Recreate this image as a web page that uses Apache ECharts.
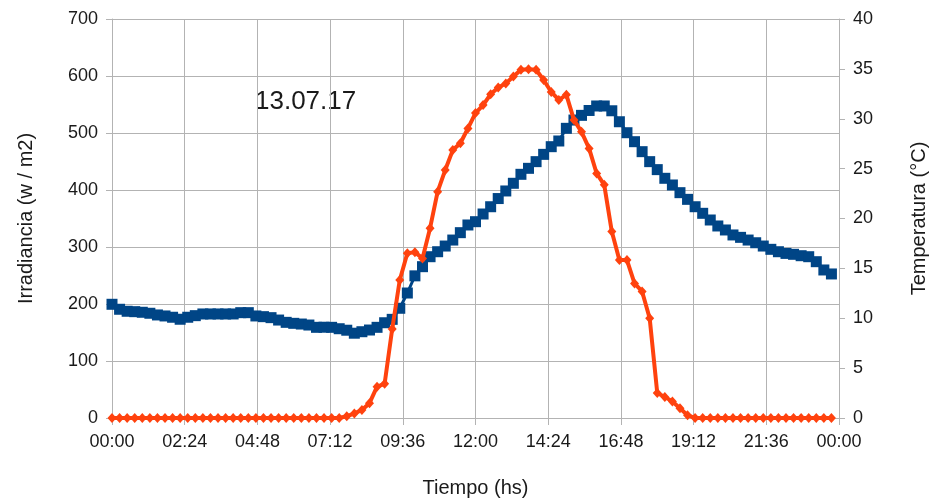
<!DOCTYPE html>
<html>
<head>
<meta charset="utf-8">
<script src="https://cdn.jsdelivr.net/npm/echarts@6/dist/echarts.min.js"></script>
<style>html,body{margin:0;padding:0;background:#fff}#c{width:931px;height:499px}</style>
</head>
<body>
<div id="c"></div>
<script>
// Sample times (15-minute readings)
const times = [
"00:00","00:15","00:30","00:45","01:00","01:15","01:30","01:45","02:00","02:15","02:30","02:45",
"03:00","03:15","03:30","03:45","04:00","04:15","04:30","04:45","05:00","05:15","05:30","05:45",
"06:00","06:15","06:30","06:45","07:00","07:15","07:30","07:45","08:00","08:15","08:30","08:45",
"09:00","09:15","09:30","09:45","10:00","10:15","10:30","10:45","11:00","11:15","11:30","11:45",
"12:00","12:15","12:30","12:45","13:00","13:15","13:30","13:45","14:00","14:15","14:30","14:45",
"15:00","15:15","15:30","15:45","16:00","16:15","16:30","16:45","17:00","17:15","17:30","17:45",
"18:00","18:15","18:30","18:45","19:00","19:15","19:30","19:45","20:00","20:15","20:30","20:45",
"21:00","21:15","21:30","21:45","22:00","22:15","22:30","22:45","23:00","23:15","23:30","23:45"
];
// Irradiance (W/m2)
const irradiance = [
0,0,0,0,0,0,0,0,0,0,0,0,
0,0,0,0,0,0,0,0,0,0,0,0,
0,0,0,0,0,0,0,3,8,14,26,55,
60,156,242,289,291,280,333,397,435,470,482,508,
535,549,568,580,587,599,611,612,611,593,572,558,
567,523,502,473,429,409,327,277,277,236,222,175,
44,37,29,17,5,0,0,0,0,0,0,0,
0,0,0,0,0,0,0,0,0,0,0,0
];
// Temperature (°C)
const temperature = [
11.4,10.9,10.7,10.66,10.6,10.5,10.33,10.23,10.1,9.9,10.1,10.26,
10.43,10.43,10.43,10.43,10.43,10.56,10.56,10.23,10.16,10.06,9.82,9.59,
9.49,9.42,9.32,9.09,9.1,9.09,8.95,8.8,8.5,8.65,8.82,9.09,
9.55,9.89,11.0,12.53,14.25,15.17,16.17,16.67,17.24,17.84,18.58,19.35,
19.68,20.45,21.18,22.0,22.76,23.53,24.43,25.03,25.7,26.43,27.2,27.77,
29.04,29.87,30.34,30.83,31.28,31.28,30.8,29.7,28.6,27.7,26.7,25.7,
24.9,24.03,23.36,22.59,21.92,21.18,20.52,19.85,19.25,18.85,18.35,18.11,
17.84,17.57,17.24,16.91,16.67,16.5,16.41,16.27,16.17,15.67,14.84,14.44
];
const xTickLabels = ["00:00","02:24","04:48","07:12","09:36","12:00","14:24","16:48","19:12","21:36","00:00"];

const toMin = s => { const p = s.split(":"); return (+p[0]) * 60 + (+p[1]); };
const irrData = times.map((t, i) => [toMin(t), irradiance[i]]);
const tmpData = times.map((t, i) => [toMin(t), temperature[i]]);

const FONT = "Liberation Sans";
const TXT = "#1a1a1a";
const GRID = "#b3b3b3";

const chart = echarts.init(document.getElementById('c'), null, {renderer: 'canvas'});
chart.setOption({
  animation: false,
  backgroundColor: '#fff',
  textStyle: {fontFamily: FONT},
  grid: {left: 112, right: 92, top: 19, bottom: 81, containLabel: false, outerBoundsMode: 'none'},
  xAxis: {
    type: 'value', min: 0, max: 1440, interval: 144,
    name: 'Tiempo (hs)', nameLocation: 'middle', nameGap: 60,
    nameTextStyle: {fontSize: 20, color: TXT, fontFamily: FONT},
    axisLine: {show: true, lineStyle: {color: GRID, width: 1}},
    axisTick: {show: true, length: 7, lineStyle: {color: GRID}},
    axisLabel: {fontSize: 18, color: TXT, fontFamily: FONT, margin: 15,
      formatter: (v) => xTickLabels[Math.round(v / 144)]},
    splitLine: {show: true, lineStyle: {color: GRID, width: 1}}
  },
  yAxis: [{
    type: 'value', min: 0, max: 700, interval: 100,
    name: 'Irradiancia (w / m2)', nameLocation: 'middle', nameGap: 76, nameRotate: 90,
    nameTextStyle: {fontSize: 20, color: TXT, fontFamily: FONT},
    axisLine: {show: true, lineStyle: {color: GRID, width: 1}},
    axisTick: {show: true, length: 6, lineStyle: {color: GRID}},
    axisLabel: {fontSize: 18, color: TXT, fontFamily: FONT, margin: 14},
    splitLine: {show: true, lineStyle: {color: GRID, width: 1}}
  }, {
    type: 'value', min: 0, max: 40, interval: 5, position: 'right',
    name: 'Temperatura (°C)', nameLocation: 'middle', nameGap: 70, nameRotate: 90,
    nameTextStyle: {fontSize: 20, color: TXT, fontFamily: FONT},
    axisLine: {show: true, lineStyle: {color: GRID, width: 1}},
    axisTick: {show: true, length: 6, lineStyle: {color: GRID}},
    axisLabel: {fontSize: 18, color: TXT, fontFamily: FONT, margin: 14},
    splitLine: {show: false}
  }],
  series: [{
    name: 'Temperatura', type: 'line', yAxisIndex: 1, data: tmpData,
    symbol: 'rect', symbolSize: 11, z: 2,
    lineStyle: {color: '#004586', width: 3},
    itemStyle: {color: '#004586'}
  }, {
    name: 'Irradiancia', type: 'line', yAxisIndex: 0, data: irrData,
    symbol: 'diamond', symbolSize: [9, 10], z: 3,
    lineStyle: {color: '#ff420e', width: 4},
    itemStyle: {color: '#ff420e'}
  }],
  graphic: [{
    type: 'text', left: 255, top: 89,
    style: {text: '13.07.17', fontSize: 26, fill: TXT, fontFamily: FONT}
  }]
});
</script>
</body>
</html>
